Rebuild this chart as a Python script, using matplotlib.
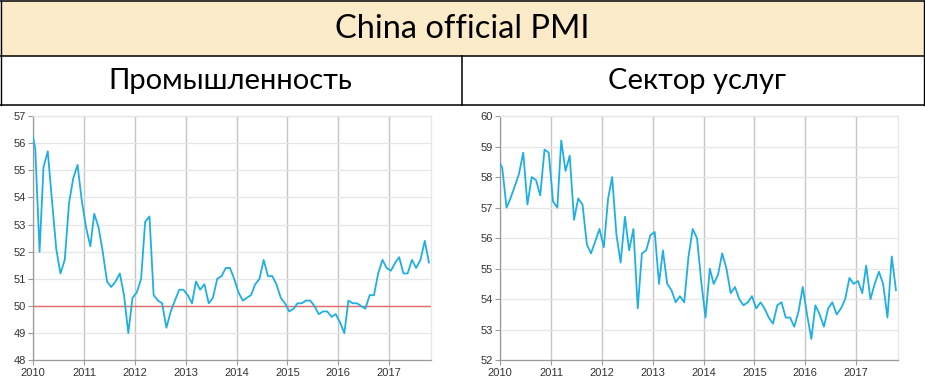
import pandas as pd
import matplotlib
matplotlib.use("Agg")
import matplotlib.pyplot as plt
import matplotlib.dates as mdates
from matplotlib.lines import Line2D
from matplotlib.patches import Rectangle

title = "China official PMI"
panel_titles = ["Промышленность", "Сектор услуг"]

# monthly readings, Dec 2009 .. Oct 2017 (plotted mid-month)
months = pd.date_range("2009-12-01", "2017-10-01", freq="MS") + pd.Timedelta(days=14)

manufacturing = [56.6,
    55.8, 52.0, 55.1, 55.7, 53.9, 52.1, 51.2, 51.7, 53.8, 54.7, 55.2, 53.9,
    52.9, 52.2, 53.4, 52.9, 52.0, 50.9, 50.7, 50.9, 51.2, 50.4, 49.0, 50.3,
    50.5, 51.0, 53.1, 53.3, 50.4, 50.2, 50.1, 49.2, 49.8, 50.2, 50.6, 50.6,
    50.4, 50.1, 50.9, 50.6, 50.8, 50.1, 50.3, 51.0, 51.1, 51.4, 51.4, 51.0,
    50.5, 50.2, 50.3, 50.4, 50.8, 51.0, 51.7, 51.1, 51.1, 50.8, 50.3, 50.1,
    49.8, 49.9, 50.1, 50.1, 50.2, 50.2, 50.0, 49.7, 49.8, 49.8, 49.6, 49.7,
    49.4, 49.0, 50.2, 50.1, 50.1, 50.0, 49.9, 50.4, 50.4, 51.2, 51.7, 51.4,
    51.3, 51.6, 51.8, 51.2, 51.2, 51.7, 51.4, 51.7, 52.4, 51.6]

services = [58.6,
    58.3, 57.0, 57.3, 57.7, 58.1, 58.8, 57.1, 58.0, 57.9, 57.4, 58.9, 58.8,
    57.2, 57.0, 59.2, 58.2, 58.7, 56.6, 57.3, 57.1, 55.8, 55.5, 55.9, 56.3,
    55.7, 57.3, 58.0, 56.1, 55.2, 56.7, 55.6, 56.3, 53.7, 55.5, 55.6, 56.1,
    56.2, 54.5, 55.6, 54.5, 54.3, 53.9, 54.1, 53.9, 55.4, 56.3, 56.0, 54.6,
    53.4, 55.0, 54.5, 54.8, 55.5, 55.0, 54.2, 54.4, 54.0, 53.8, 53.9, 54.1,
    53.7, 53.9, 53.7, 53.4, 53.2, 53.8, 53.9, 53.4, 53.4, 53.1, 53.6, 54.4,
    53.5, 52.7, 53.8, 53.5, 53.1, 53.7, 53.9, 53.5, 53.7, 54.0, 54.7, 54.5,
    54.6, 54.2, 55.1, 54.0, 54.5, 54.9, 54.5, 53.4, 55.4, 54.3]

years = list(range(2010, 2018))
ylims = [(48, 57), (52, 60)]

W, H = 925, 389
fig = plt.figure(figsize=(W / 100, H / 100), dpi=100)
fig.patch.set_facecolor("white")


def fx(x):
    return x / W


def fy(y):
    return 1 - y / H


# table: beige title row + header row
fig.patches.append(Rectangle((fx(0), fy(56)), 1, fy(1) - fy(56),
                             transform=fig.transFigure, facecolor="#FCEBC8",
                             edgecolor="none", zorder=0))
for y in (1, 56, 105):
    fig.lines.append(Line2D([0, 1], [fy(y), fy(y)], transform=fig.transFigure,
                            color="black", lw=1.1))
for x in (0.6, 924.4):
    fig.lines.append(Line2D([fx(x), fx(x)], [fy(1), fy(105)],
                            transform=fig.transFigure, color="black", lw=1.0))
fig.lines.append(Line2D([fx(461.5), fx(461.5)], [fy(56), fy(105)],
                        transform=fig.transFigure, color="black", lw=1.1))

fnt = ["Lato", "Open Sans"]
fig.text(0.5, fy(29), title, ha="center", va="center", fontsize=23.5,
         family=fnt, color="black")
fig.text(fx(230), fy(81), panel_titles[0], ha="center", va="center",
         fontsize=21, family=fnt, color="black")
fig.text(fx(697), fy(81), panel_titles[1], ha="center", va="center",
         fontsize=21, family=fnt, color="black")

series = [manufacturing, services]
lefts = [33.3, 500.3]
for i in range(2):
    ax = fig.add_axes([fx(lefts[i]), fy(360.3), 398 / W, 244.3 / H])
    ax.plot(months, series[i], color="#1FAFE2", lw=1.3, zorder=3)
    if i == 0:
        ax.axhline(50, color="#E36A6A", lw=1.0, zorder=2)
    ax.set_xlim(pd.Timestamp("2010-01-01"), pd.Timestamp("2017-11-01"))
    ax.set_ylim(*ylims[i])
    ax.set_yticks(range(ylims[i][0], ylims[i][1] + 1))
    ax.set_xticks([pd.Timestamp(f"{y}-01-01") for y in years])
    ax.xaxis.set_major_formatter(mdates.DateFormatter("%Y"))
    ax.grid(axis="y", color="#E6E6E6", lw=0.9)
    ax.grid(axis="x", color="#C6C6C6", lw=1.0)
    ax.set_axisbelow(True)
    for s in ("top", "right"):
        ax.spines[s].set_color("#E6E6E6")
        ax.spines[s].set_linewidth(0.9)
    for s in ("left", "bottom"):
        ax.spines[s].set_color("#9A9A9A")
        ax.spines[s].set_linewidth(0.9)
    ax.tick_params(axis="both", length=3.5, width=0.8, color="#9A9A9A",
                   labelsize=8, labelcolor="#333333", pad=2)
    for lab in ax.get_xticklabels() + ax.get_yticklabels():
        lab.set_family("Liberation Sans")

fig.savefig("out.png", dpi=100)
